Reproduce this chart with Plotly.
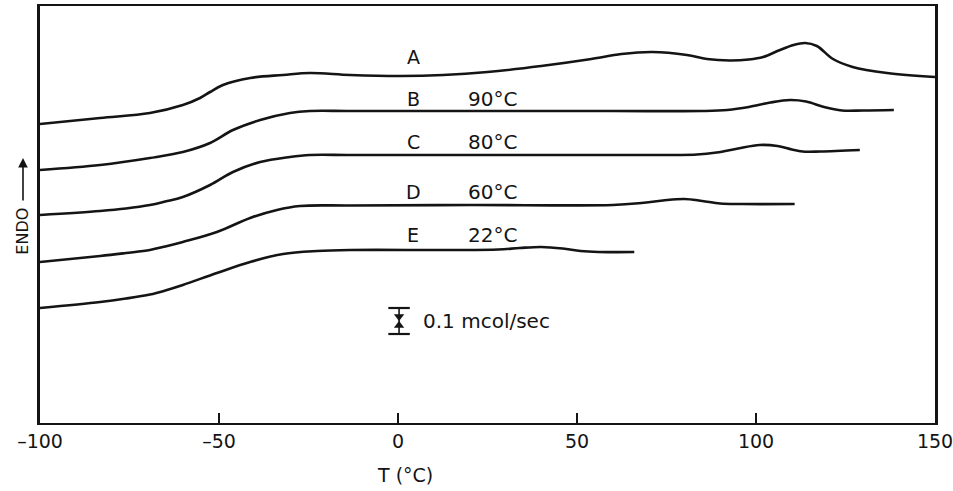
import plotly.graph_objects as go

# ---------------- data ----------------
# Temperatures (°C) and endothermic heat-flow signal (arbitrary units, stacked curves)
A_T = [-100, -83.2, -69.3, -60.1, -55.3, -52.5, -48.9, -41.3, -32.1, -24.6, -13.4, 0.8, 12.6,
       25, 40, 54, 62.4, 71, 80.7, 86.3, 92.7, 98, 102, 106.7, 110.5, 113.7, 117, 121.5,
       127, 136.6, 150]
A_V = [299, 305, 310, 318, 325, 331, 338, 345, 348, 350, 348, 347, 348,
       351, 357, 364, 369, 371, 368, 364, 362.5, 363.5, 366, 373, 378, 380, 377, 364,
       356, 350, 346]

B_T = [-100, -83.2, -69.3, -60.1, -52.5, -46.1, -38.5, -30.2, -24.6, -13.4, 20, 60, 84.8,
       92, 98, 104, 109.5, 114, 119, 124, 130, 138.5]
B_V = [253, 258, 265, 271, 280, 293, 303, 310, 312, 312, 312, 312, 312,
       313, 316, 320.5, 323, 321.5, 316, 312.5, 312.5, 313]

C_T = [-100, -83.2, -76, -69.3, -65, -60.1, -52.5, -46.1, -38.5, -30.2, -24.6, -13.4, 20, 60,
       83.5, 89, 95, 101, 106, 110, 113, 118, 129]
C_V = [208, 212, 214.5, 218, 221.5, 226, 238, 251, 261, 266, 268, 268, 268, 268,
       268.5, 270.5, 274.5, 278, 277, 273.5, 271.5, 271.5, 273]

D_T = [-100, -83.2, -76, -69.3, -65, -60.1, -50.6, -41.3, -33.8, -27.4, -13.4, 20, 60, 68,
       74, 80, 85, 90, 96, 110.8]
D_V = [161, 167, 170, 173, 176.5, 181, 191, 205, 213, 217, 217.5, 218, 218, 220,
       222.5, 224, 222, 219.5, 219, 219]

E_T = [-100, -83.2, -76, -69.3, -65, -60.1, -50.6, -41.3, -32.1, -22.6, -13.4, 14.8, 28, 34,
       40, 46, 51, 56, 66]
E_V = [115, 121, 124.5, 128.5, 132.5, 138, 150, 161, 169, 172, 173, 173, 173.5, 175,
       176, 174.5, 172, 171, 171]

CURVE_NAMES = ["A", "B", "C", "D", "E"]
CURVE_TEMPS = ["", "90°C", "80°C", "60°C", "22°C"]
LABEL_T = 4.2
TEMP_LABEL_T = 26.5
LABEL_V = [366, 324, 281, 231, 188]

SCALE_T = 0.3
SCALE_LOW = 89
SCALE_HIGH = 115
SCALE_TEXT = "0.1 mcol/sec"

X_TICKS = [-100, -50, 0, 50, 100, 150]
X_TICK_TEXT = ["\u2013100", "\u201350", "0", "50", "100", "150"]
X_TITLE = "T (°C)"
Y_TITLE = "ENDO"

# ---------------- figure ----------------
INK = "#141414"
FONT = "DejaVu Sans"

fig = go.Figure()
for T, V, name in zip([A_T, B_T, C_T, D_T, E_T], [A_V, B_V, C_V, D_V, E_V], CURVE_NAMES):
    fig.add_trace(go.Scatter(x=T, y=V, mode="lines", name=name,
                             line=dict(color=INK, width=2.6, shape="spline", smoothing=1.0),
                             showlegend=False, hoverinfo="skip"))

# scale bar: stem, caps and arrow heads
cap = 3.0
fig.add_trace(go.Scatter(x=[SCALE_T, SCALE_T], y=[SCALE_LOW, SCALE_HIGH], mode="lines",
                         line=dict(color=INK, width=1.6), showlegend=False, hoverinfo="skip"))
for yv in (SCALE_LOW, SCALE_HIGH):
    fig.add_trace(go.Scatter(x=[SCALE_T - cap, SCALE_T + cap], y=[yv, yv], mode="lines",
                             line=dict(color=INK, width=2.2), showlegend=False, hoverinfo="skip"))
mid = (SCALE_LOW + SCALE_HIGH) / 2
fig.add_trace(go.Scatter(x=[SCALE_T, SCALE_T], y=[mid + 4.5, mid - 4.5], mode="markers",
                         marker=dict(symbol=["triangle-down", "triangle-up"], size=9, color=INK),
                         showlegend=False, hoverinfo="skip"))

annotations = []
for name, temp, v in zip(CURVE_NAMES, CURVE_TEMPS, LABEL_V):
    annotations.append(dict(x=LABEL_T, y=v, text=name, showarrow=False, xanchor="center",
                            yanchor="middle", font=dict(family=FONT, size=19, color=INK)))
    if temp:
        annotations.append(dict(x=TEMP_LABEL_T, y=v, text=temp, showarrow=False, xanchor="center",
                                yanchor="middle", font=dict(family=FONT, size=20, color=INK)))

annotations.append(dict(x=SCALE_T + 6, y=mid, text=SCALE_TEXT, showarrow=False, xanchor="left",
                        yanchor="middle", font=dict(family=FONT, size=20, color=INK)))
# x-axis title
annotations.append(dict(x=2, y=-0.125, xref="x", yref="paper", text=X_TITLE, showarrow=False,
                        xanchor="center", yanchor="middle", font=dict(family=FONT, size=19, color=INK)))
# y-axis "ENDO" label with arrow
annotations.append(dict(x=-0.02, y=0.459, xref="paper", yref="paper", text=Y_TITLE, textangle=-90,
                        showarrow=False, xanchor="center", yanchor="middle",
                        font=dict(family=FONT, size=16, color=INK)))
annotations.append(dict(x=-0.019, y=0.6355, xref="paper", yref="paper", text="", showarrow=True,
                        ax=0, ay=44, arrowhead=2, arrowsize=1.2, arrowwidth=1.6, arrowcolor=INK))

fig.update_layout(
    width=953, height=491,
    margin=dict(l=40, r=18, t=6, b=68),
    plot_bgcolor="white", paper_bgcolor="white",
    annotations=annotations,
    font=dict(family=FONT, color=INK),
    xaxis=dict(range=[-100, 150], tickvals=X_TICKS, ticktext=X_TICK_TEXT,
               ticks="inside", ticklen=10, tickwidth=2, tickcolor=INK,
               ticklabeloverflow="allow", automargin=False,
               showline=True, linecolor=INK, linewidth=2, mirror=True,
               showgrid=False, zeroline=False, tickfont=dict(family=FONT, size=19, color=INK)),
    yaxis=dict(range=[0, 417], showticklabels=False, ticks="", showline=True, linecolor=INK,
               linewidth=2.5, mirror=True, showgrid=False, zeroline=False, automargin=False),
)

fig.write_html("out.html")
